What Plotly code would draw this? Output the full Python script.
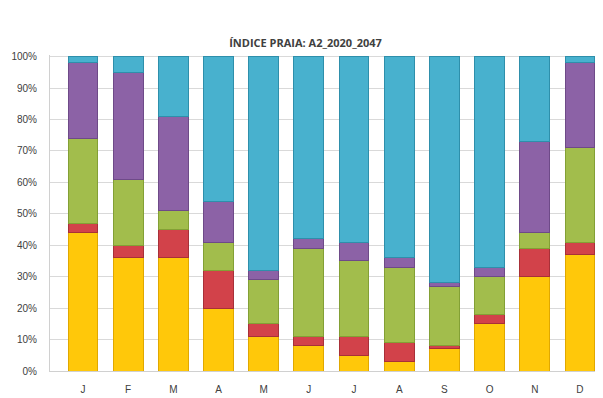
import plotly.graph_objects as go

months = ["J", "F", "M", "A", "M", "J", "J", "A", "S", "O", "N", "D"]
yellow = [44, 36, 36, 20, 11, 8, 5, 3, 7, 15, 30, 37]
red = [3, 4, 9, 12, 4, 3, 6, 6, 1, 3, 9, 4]
green = [27, 21, 6, 9, 14, 28, 24, 24, 19, 12, 5, 30]
purple = [24, 34, 30, 13, 3, 3, 6, 3, 1, 3, 29, 27]
blue = [2, 5, 19, 46, 68, 58, 59, 64, 72, 67, 27, 2]
y_ticks = [0, 10, 20, 30, 40, 50, 60, 70, 80, 90, 100]

series = [
    ("Amarelo", yellow, "#FFC80A", "#E0A800"),
    ("Vermelho", red, "#D2424A", "#A83038"),
    ("Verde", green, "#A2BD4C", "#83A035"),
    ("Roxo", purple, "#8C62A6", "#6E4A88"),
    ("Azul", blue, "#48B1CE", "#2E8FAB"),
]

x = list(range(len(months)))
fig = go.Figure()
for name, vals, col, edge in series:
    fig.add_trace(go.Bar(
        x=x, y=vals, name=name,
        marker=dict(color=col, line=dict(color=edge, width=1)),
        hovertemplate="%{y}%<extra></extra>",
    ))

fig.update_layout(
    barmode="stack",
    bargap=0.34,
    width=595, height=390,
    margin=dict(l=42, r=5, t=47, b=27),
    paper_bgcolor="white", plot_bgcolor="white",
    showlegend=False,
    title=dict(text="<b>ÍNDICE PRAIA: A2_2020_2047</b>", x=0.5, xanchor="center",
               y=0.91, yanchor="middle",
               font=dict(family="Open Sans, Liberation Sans, sans-serif", size=11, color="#404040")),
    font=dict(family="Liberation Sans, Arial, sans-serif", size=10, color="#404040"),
)
fig.update_xaxes(
    tickvals=x, ticktext=months, range=[-0.73, 11.4], automargin=False,
    showgrid=False, showline=True, linecolor="#D0D0D0",
    ticks="", ticklabelstandoff=9, tickfont=dict(size=10, color="#404040"),
)
fig.update_yaxes(
    range=[0, 100.5], tickvals=y_ticks, ticktext=[f"{v}%" for v in y_ticks],
    automargin=False,
    showgrid=True, gridcolor="#D9D9D9", gridwidth=1,
    showline=True, linecolor="#D0D0D0", zeroline=False,
    ticks="", ticklabelstandoff=10, tickfont=dict(size=10, color="#404040"),
)
fig.write_html("out.html")
